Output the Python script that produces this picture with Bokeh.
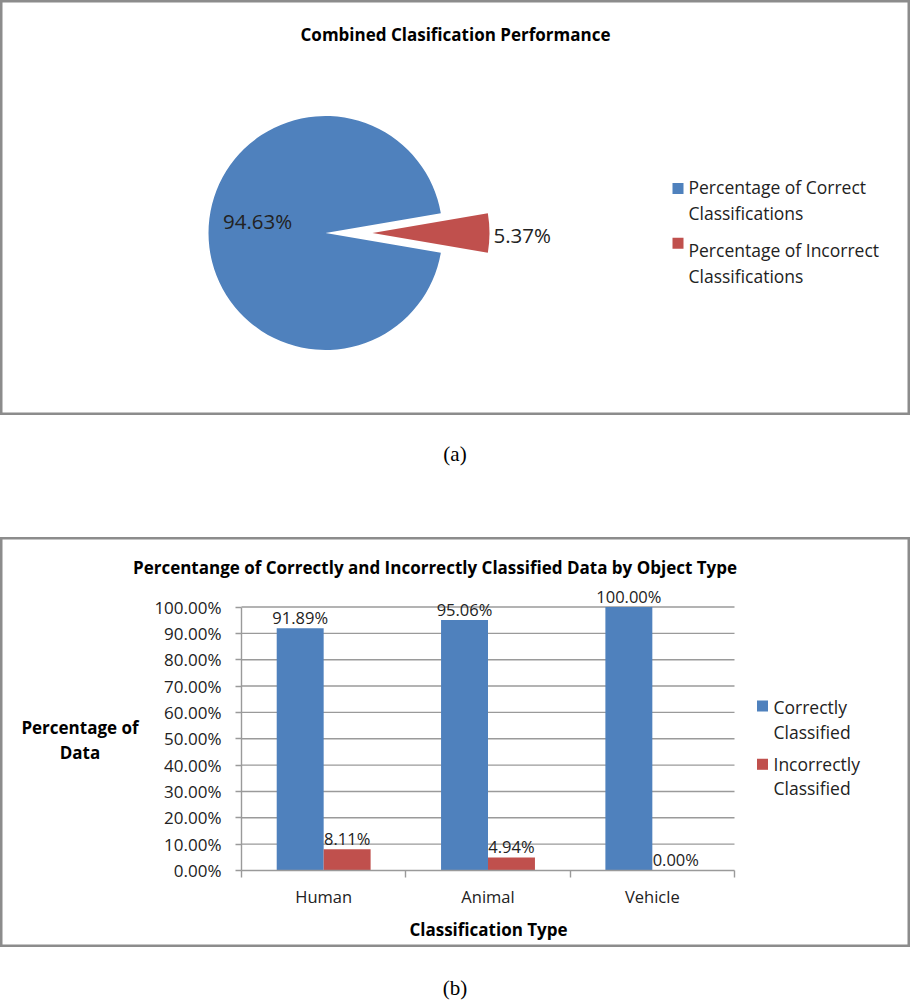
import math
from bokeh.plotting import figure
from bokeh.models import Range1d, LinearAxis, FixedTicker, PrintfTickFormatter, Div
from bokeh.layouts import column
from bokeh.embed import file_html
from bokeh.resources import INLINE
from bokeh.core.properties import value

# ---------------- data ----------------
pie_title = "Combined Clasification Performance"
pie_names = ["Percentage of Correct Classifications", "Percentage of Incorrect Classifications"]
pie_values = [94.63, 5.37]
pie_colors = ["#4F81BD", "#C0504D"]
pie_explode = [0, 47]

bar_title = "Percentange of Correctly and Incorrectly Classified Data by Object Type"
categories = ["Human", "Animal", "Vehicle"]
correct = [91.89, 95.06, 100.00]
incorrect = [8.11, 4.94, 0.00]
series_names = ["Correctly Classified", "Incorrectly Classified"]
series_colors = ["#4F81BD", "#C0504D"]
y_ticks = [0, 10, 20, 30, 40, 50, 60, 70, 80, 90, 100]
y_label = "Percentage of Data"
x_label = "Classification Type"
captions = ["(a)", "(b)"]

FONT = "Open Sans"
TXT = "#222222"
BORDER = "#8c8c8c"
GRID = "#9a9a9a"
W = 910


def wrap2(s, first_words):
    w = s.split(" ")
    return [" ".join(w[:first_words]), " ".join(w[first_words:])]


def no_grid(p):
    for g in p.grid:
        g.visible = False


# ---------------- pie panel ----------------
PH = 415
cx, cy = 325, 232.5
R = 117


def rx(px):
    return px - cx


def ry(py):
    return cy - py


pie = figure(width=W, height=PH, x_range=Range1d(-cx, W - cx), y_range=Range1d(-(PH - cy), cy),
             output_backend="svg", toolbar_location=None, x_axis_location=None, y_axis_location=None,
             min_border=0, outline_line_color=BORDER, outline_line_width=4)
no_grid(pie)

total = sum(pie_values)
fr = [v / total for v in pie_values]
theta = -2 * math.pi * fr[0] - math.pi * fr[1]
starts, ends, xs, ys, mids = [], [], [], [], []
for f, e in zip(fr, pie_explode):
    s = theta
    en = theta + 2 * math.pi * f
    m = (s + en) / 2
    starts.append(s)
    ends.append(en)
    mids.append(m)
    xs.append(e * math.cos(m))
    ys.append(e * math.sin(m))
    theta = en

pie.wedge(x=xs, y=ys, radius=R, start_angle=starts, end_angle=ends,
          fill_color=pie_colors, line_color=None)

# slice labels
pie.text(x=[xs[0] + 0.58 * R * math.cos(mids[0])], y=[ry(220)], text=[f"{pie_values[0]:.2f}%"],
         text_font=value(FONT), text_font_size="20.5px", text_color=TXT,
         text_align="center", text_baseline="middle")
pie.text(x=[xs[1] + (R + 4) * math.cos(mids[1])], y=[ry(234)], text=[f"{pie_values[1]:.2f}%"],
         text_font=value(FONT), text_font_size="20.5px", text_color=TXT,
         text_align="left", text_baseline="middle")

# title
pie.text(x=[W / 2 - cx], y=[ry(34.4)], text=[pie_title], text_font=value(FONT),
         text_font_style="bold", text_font_size="17px", text_color="black",
         text_align="center", text_baseline="middle")

# legend
pie.scatter(x=[rx(677.5)] * 2, y=[ry(188), ry(242.8)], marker="square", size=11,
            fill_color=pie_colors, line_color=None)
leg_lines = wrap2(pie_names[0], 3) + wrap2(pie_names[1], 3)
pie.text(x=[rx(688)] * 4, y=[ry(m) for m in [186, 212, 249.3, 275.6]], text=leg_lines,
         text_font=value(FONT), text_font_size="17.5px", text_color=TXT,
         text_align="left", text_baseline="middle")

# ---------------- bar panel ----------------
BH = 410
TOP = 537
n = len(categories)
ymax = y_ticks[-1]
PL, PR = 241, 734
PT, PB = 606.5 - TOP, 870 - TOP
sx = (PR - PL) / n
sy = (PB - PT) / ymax


def bx(px):
    return (px - PL) / sx


def by(py):
    return (PB - (py - TOP)) / sy


bar = figure(width=W, height=BH,
             x_range=Range1d(-PL / sx, (W - PL) / sx),
             y_range=Range1d(-(BH - PB) / sy, PB / sy),
             output_backend="svg", toolbar_location=None, x_axis_location=None, y_axis_location=None,
             min_border=0, outline_line_color=BORDER, outline_line_width=4)
no_grid(bar)

# gridlines
gt = y_ticks[1:]
bar.segment(x0=[0] * len(gt), x1=[n] * len(gt), y0=gt, y1=gt, line_color=GRID, line_width=1.4)

w = 1 / 3.5
xc = [i + 0.5 for i in range(n)]
x_cor = [c - w / 2 for c in xc]
x_inc = [c + w / 2 for c in xc]
bar.vbar(x=x_cor, top=correct, bottom=0, width=w, fill_color=series_colors[0], line_color=None)
bar.vbar(x=x_inc, top=incorrect, bottom=0, width=w, fill_color=series_colors[1], line_color=None)

bar.text(x=x_cor + x_inc, y=correct + incorrect,
         text=[f"{v:.2f}%" for v in correct + incorrect],
         text_font=value(FONT), text_font_size="16.5px", text_color=TXT,
         text_align="center", text_baseline="middle", y_offset=-11)

# axes
yax = LinearAxis(fixed_location=0, bounds=(0, ymax), ticker=FixedTicker(ticks=y_ticks),
                 formatter=PrintfTickFormatter(format="%.2f%%"))
yax.axis_line_color = GRID
yax.axis_line_width = 1.4
yax.major_tick_line_color = GRID
yax.major_tick_line_width = 1.4
yax.major_tick_in = 0
yax.major_tick_out = 6
yax.minor_tick_in = 0
yax.minor_tick_out = 0
yax.major_label_standoff = 14
yax.major_label_text_font = FONT
yax.major_label_text_font_size = "17px"
yax.major_label_text_color = TXT
bar.add_layout(yax, "left")

xax = LinearAxis(fixed_location=0, bounds=(0, n), ticker=FixedTicker(ticks=list(range(n + 1))),
                 major_label_overrides={i: "" for i in range(n + 1)})
xax.axis_line_color = GRID
xax.axis_line_width = 1.4
xax.major_tick_line_color = GRID
xax.major_tick_line_width = 1.4
xax.major_tick_in = 0
xax.major_tick_out = 7
xax.minor_tick_in = 0
xax.minor_tick_out = 0
bar.add_layout(xax, "below")

xlab = LinearAxis(fixed_location=0, ticker=FixedTicker(ticks=xc),
                  major_label_overrides={c: cat for c, cat in zip(xc, categories)})
xlab.axis_line_color = None
xlab.major_tick_line_color = None
xlab.minor_tick_line_color = None
xlab.major_label_standoff = 8
xlab.major_label_text_font = FONT
xlab.major_label_text_font_size = "16.5px"
xlab.major_label_text_color = TXT
bar.add_layout(xlab, "below")

# titles
bar.text(x=[bx(434.5)], y=[by(566.5)], text=[bar_title], text_font=value(FONT),
         text_font_style="bold", text_font_size="17px", text_color="black",
         text_align="center", text_baseline="middle")
yl = wrap2(y_label, 2)
bar.text(x=[bx(79.5)] * 2, y=[by(727), by(752)], text=yl, text_font=value(FONT),
         text_font_style="bold", text_font_size="17px", text_color="black",
         text_align="center", text_baseline="middle")
bar.text(x=[bx(488)], y=[by(928.5)], text=[x_label], text_font=value(FONT),
         text_font_style="bold", text_font_size="17px", text_color="black",
         text_align="center", text_baseline="middle")

# legend
bar.scatter(x=[bx(762)] * 2, y=[by(705.5), by(763.8)], marker="square", size=11,
            fill_color=series_colors, line_color=None)
bl = wrap2(series_names[0], 1) + wrap2(series_names[1], 1)
bar.text(x=[bx(773)] * 4, y=[by(m) for m in [706.3, 731, 763.7, 787.7]], text=bl,
         text_font=value(FONT), text_font_size="17.5px", text_color=TXT,
         text_align="left", text_baseline="middle")


# ---------------- captions ----------------
def cap(txt, h, pad):
    return Div(text=(f'<div style="width:{W}px;text-align:center;font-family:\'Liberation Serif\',serif;'
                     f'font-size:21px;line-height:24px;padding-top:{pad}px;color:black;">{txt}</div>'),
               width=W, height=h, margin=0, styles={"text-align": "center", "width": f"{W}px"})


cap_a = cap(captions[0], 122, 27)
cap_b = cap(captions[1], 49, 29)

layout = column(pie, cap_a, bar, cap_b, spacing=0)
open("out.html", "w").write(file_html(layout, INLINE))
